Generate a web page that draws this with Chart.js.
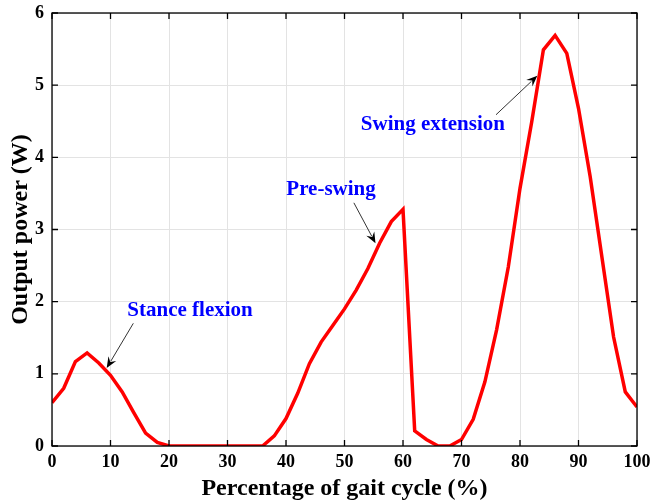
<!DOCTYPE html>
<html>
<head>
<meta charset="utf-8">
<script src="https://cdn.jsdelivr.net/npm/chart.js@4/dist/chart.umd.min.js"></script>
<style>
html,body{margin:0;padding:0;background:#fff;}
#wrap{width:652px;height:503px;}
</style>
</head>
<body>
<div id="wrap"><canvas id="c" width="652" height="503"></canvas></div>
<script>
const gaitPercent = [0,2,4,6,8,10,12,14,16,18,20,22,24,26,28,30,32,34,36,38,40,42,44,46,48,50,52,54,56,58,60,62,64,66,68,70,72,74,76,78,80,82,84,86,88,90,92,94,96,98,100];
const outputPower = [0.60,0.80,1.17,1.29,1.15,0.98,0.75,0.46,0.18,0.05,0,0,0,0,0,0,0,0,0,0.14,0.38,0.73,1.14,1.44,1.67,1.90,2.16,2.46,2.81,3.11,3.28,0.21,0.09,0,0,0.09,0.37,0.89,1.61,2.48,3.57,4.49,5.49,5.69,5.44,4.68,3.73,2.62,1.51,0.75,0.54];
const xTicks = [0,10,20,30,40,50,60,70,80,90,100];
const yTicks = [0,1,2,3,4,5,6];
const noteTexts = ["Stance flexion","Pre-swing","Swing extension"];
const noteTextAt = [[23.6,1.87],[47.7,3.56],[65.1,4.46]];
const noteArrowFrom = [[13.9,1.70],[51.6,3.37],[75.9,4.59]];
const noteArrowTo = [[9.35,1.08],[55.3,2.81],[82.96,5.13]];

const FONT = '"Liberation Serif","Times New Roman",serif';

const framePlugin = {
  id:'frame',
  afterDatasetsDraw(chart){
    const {ctx, chartArea:a, scales:{x,y}} = chart;
    ctx.save();
    for(let i=0;i<noteTexts.length;i++){
      const fx=x.getPixelForValue(noteArrowFrom[i][0]), fy=y.getPixelForValue(noteArrowFrom[i][1]);
      const tx=x.getPixelForValue(noteArrowTo[i][0]), ty=y.getPixelForValue(noteArrowTo[i][1]);
      const ang=Math.atan2(ty-fy,tx-fx);
      const hl=11, hw=4.5;
      const bx=tx-hl*Math.cos(ang), by=ty-hl*Math.sin(ang);
      ctx.strokeStyle='#333'; ctx.lineWidth=1;
      ctx.beginPath(); ctx.moveTo(fx,fy); ctx.lineTo(bx+3*Math.cos(ang),by+3*Math.sin(ang)); ctx.stroke();
      ctx.fillStyle='#000';
      ctx.beginPath();
      ctx.moveTo(tx,ty);
      ctx.lineTo(bx+hw*Math.sin(ang), by-hw*Math.cos(ang));
      ctx.lineTo(bx+4*Math.cos(ang), by+4*Math.sin(ang));
      ctx.lineTo(bx-hw*Math.sin(ang), by+hw*Math.cos(ang));
      ctx.closePath(); ctx.fill();
      ctx.fillStyle='#0000ff';
      ctx.font='bold 21px '+FONT;
      ctx.textAlign='center'; ctx.textBaseline='middle';
      ctx.fillText(noteTexts[i], x.getPixelForValue(noteTextAt[i][0]), y.getPixelForValue(noteTextAt[i][1]));
    }
    ctx.strokeStyle='#000'; ctx.lineWidth=1.3;
    ctx.strokeRect(a.left, a.top, a.right-a.left, a.bottom-a.top);
    const tl=6;
    ctx.beginPath();
    xTicks.forEach(v=>{const px=x.getPixelForValue(v);
      ctx.moveTo(px,a.bottom); ctx.lineTo(px,a.bottom-tl);
      ctx.moveTo(px,a.top); ctx.lineTo(px,a.top+tl);});
    yTicks.forEach(v=>{const py=y.getPixelForValue(v);
      ctx.moveTo(a.left,py); ctx.lineTo(a.left+tl,py);
      ctx.moveTo(a.right,py); ctx.lineTo(a.right-tl,py);});
    ctx.stroke();
    ctx.restore();
  }
};

new Chart(document.getElementById('c'),{
  type:'line',
  data:{
    labels: gaitPercent,
    datasets:[{
      data: gaitPercent.map((g,i)=>({x:g,y:outputPower[i]})),
      borderColor:'#ff0000', borderWidth:3.5, pointRadius:0, tension:0, fill:false
    }]
  },
  options:{
    responsive:false, animation:false,
    layout:{padding:{left:0,right:15,top:13,bottom:0}},
    plugins:{legend:{display:false}, tooltip:{enabled:false}},
    scales:{
      x:{type:'linear', min:0, max:100,
        afterBuildTicks(s){ s.ticks = xTicks.map(v=>({value:v})); },
        afterFit(s){ s.height = 57; s.paddingLeft = 0; s.paddingRight = 0; },
        grid:{color:'#e3e3e3', lineWidth:1, drawTicks:false},
        border:{display:false},
        ticks:{padding:6, color:'#000', font:{family:FONT, size:18, weight:'bold'}, maxRotation:0},
        title:{display:true, text:'Percentage of gait cycle (%)', color:'#000', font:{family:FONT, size:24, weight:'bold'}, padding:{top:0,bottom:0}}
      },
      y:{type:'linear', min:0, max:6,
        afterBuildTicks(s){ s.ticks = yTicks.map(v=>({value:v})); },
        afterFit(s){ s.width = 52; s.paddingTop = 0; s.paddingBottom = 0; },
        grid:{color:'#e3e3e3', lineWidth:1, drawTicks:false},
        border:{display:false},
        ticks:{padding:8, color:'#000', font:{family:FONT, size:18, weight:'bold'}},
        title:{display:true, text:'Output power (W)', color:'#000', font:{family:FONT, size:24, weight:'bold'}, padding:{top:6,bottom:0}}
      }
    }
  },
  plugins:[framePlugin]
});
</script>
</body>
</html>
